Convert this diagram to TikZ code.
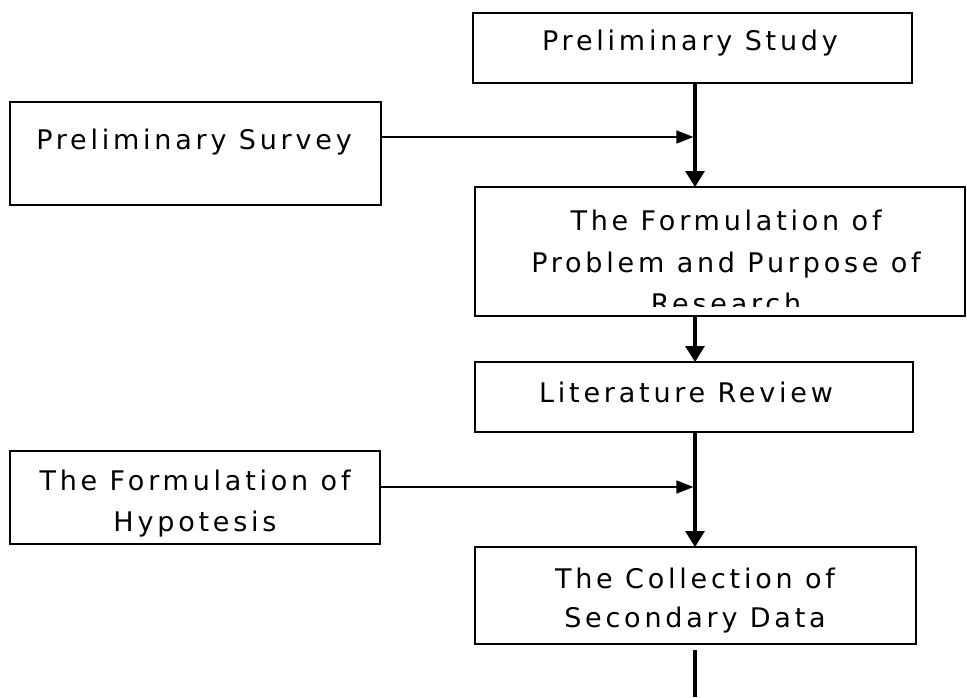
\documentclass[tikz,border=0pt]{standalone}
\usepackage{fontspec}
\usetikzlibrary{arrows.meta,calc}
\newfontfamily\dvfont{DejaVu Sans}[LetterSpace=14]
\begin{document}
\begin{tikzpicture}[x=1pt,y=-1pt,
  boxnode/.style={draw=black,line width=1.8pt,rectangle,inner sep=0pt,outer sep=0pt},
  txt/.style={font=\dvfont\fontsize{27}{40}\selectfont,inner sep=0pt,anchor=base,text=black},
  mainarrow/.style={line width=3.2pt,-{Triangle[length=16pt,width=19pt]}},
  sidearrow/.style={line width=1.6pt,-{Triangle[length=17pt,width=13pt]}}]
\useasboundingbox (0,0) rectangle (967,697);
% boxes
\node[boxnode,minimum width=439pt,minimum height=70pt] (study) at (692.5,48) {};
\node[boxnode,minimum width=371pt,minimum height=103pt] (survey) at (195.5,153.5) {};
\node[boxnode,minimum width=490pt,minimum height=129pt] (form) at (720,251.5) {};
\node[boxnode,minimum width=438pt,minimum height=70pt] (lit) at (694,397) {};
\node[boxnode,minimum width=370pt,minimum height=93pt] (hyp) at (195,497.5) {};
\node[boxnode,minimum width=441pt,minimum height=97pt] (coll) at (695.5,595.5) {};
% texts
\node[txt] (study-t) at (690,50) {Preliminary Study};
\node[txt] (survey-t) at (194,149) {Preliminary Survey};
\node[txt] (form-t1) at (726,230) {The Formulation of};
\node[txt] (form-t2) at (726,272) {Problem and Purpose of};
\begin{scope}
\clip (475,187) rectangle (966,306);
\node[txt] (form-t3) at (726,313) {Research};
\end{scope}
\node[txt] (lit-t) at (686,402) {Literature Review};
\node[txt] (hyp-t1) at (195,490) {The Formulation of};
\node[txt] (hyp-t2) at (195,531) {Hypotesis};
\node[txt] (coll-t1) at (695,588) {The Collection of};
\node[txt] (coll-t2) at (695,627) {Secondary Data};
% connectors
\coordinate (spine) at (695,0);
\coordinate (j1) at (695,137);
\coordinate (j2) at (695,487);
\coordinate (bottom) at (695,697);
\draw[mainarrow] (spine |- study.south) -- (spine |- form.north);
\draw[sidearrow,shorten >=1.6pt] (survey.east |- j1) -- (j1);
\draw[mainarrow] (spine |- form.south) -- (spine |- lit.north);
\draw[mainarrow] (spine |- lit.south) -- (spine |- coll.north);
\draw[sidearrow,shorten >=1.6pt] (hyp.east |- j2) -- (j2);
\draw[line width=3.2pt,shorten <=6pt] (spine |- coll.south) -- (bottom);
\end{tikzpicture}
\end{document}
